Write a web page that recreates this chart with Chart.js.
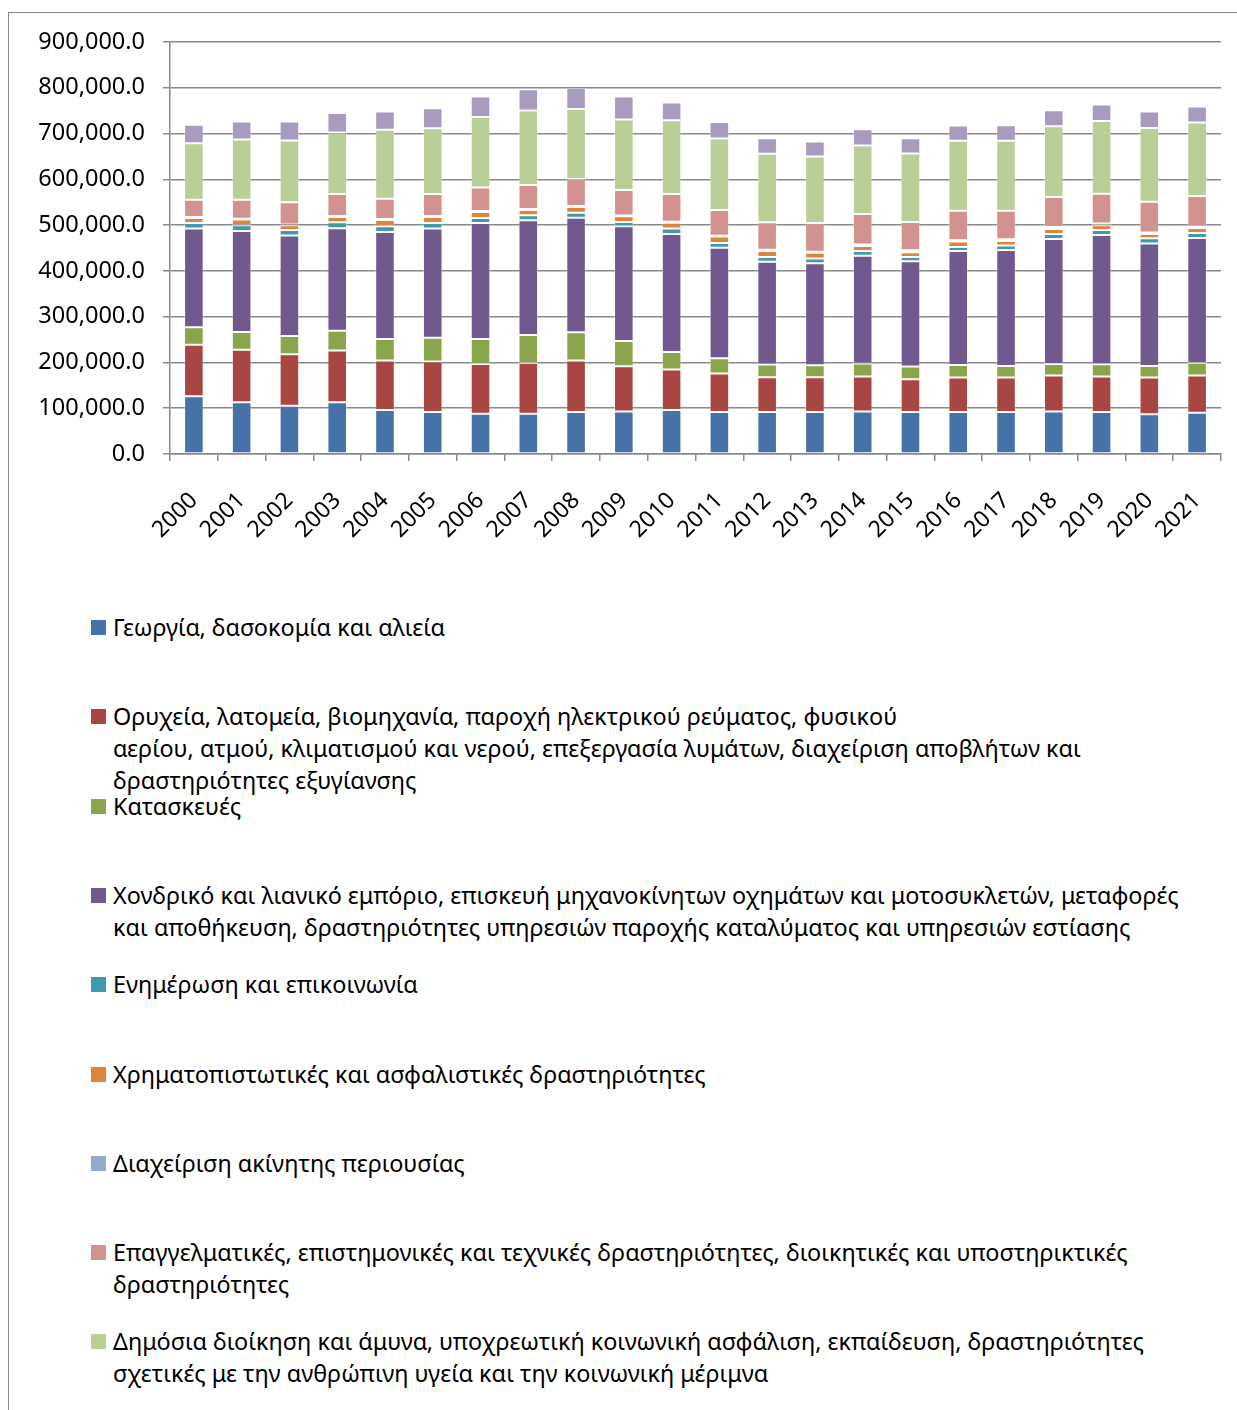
<!DOCTYPE html>
<html>
<head>
<meta charset="utf-8">
<script src="https://cdn.jsdelivr.net/npm/chart.js@4.4.1/dist/chart.umd.min.js"></script>
<style>
  html, body { margin: 0; padding: 0; background: #fff; overflow: hidden; }
  body { width: 1237px; height: 1410px; position: relative; font-family: 'Noto Sans', sans-serif; }
  #frame { position: absolute; left: 8px; top: 12px; width: 1260px; height: 1440px; border: 1.5px solid #8a8a8a; box-sizing: border-box; }
  #chart { position: absolute; left: 0; top: 0; }
  .leg { position: absolute; left: 113px; font-size: 23.4px; line-height: 32px; color: #000; white-space: pre; }
  .leg i { position: absolute; left: -22px; top: 9px; width: 15px; height: 15px; }
</style>
</head>
<body>
<div id="frame"></div>
<canvas id="chart" width="1237" height="560"></canvas>
<div id="legend"></div>
<script>
// categories
const years = ['2000','2001','2002','2003','2004','2005','2006','2007','2008','2009','2010',
               '2011','2012','2013','2014','2015','2016','2017','2018','2019','2020','2021'];

const yTicks = [0, 100000, 200000, 300000, 400000, 500000, 600000, 700000, 800000, 900000];

// series values
const agriculture = [126400,113300,105300,113300,95900,91500,87900,87900,91500,93000,95900,
                     91500,91500,91500,93000,91500,91500,91500,93000,91500,87100,90100];
const industry    = [112500,114700,112600,112600,108200,110400,108900,111100,112600,98700,88600,
                     84200,76300,76300,76200,71900,75500,75500,78400,77700,79900,81300];
const construction= [37800,38500,39900,43500,47200,52300,54500,61000,61700,55200,38400,
                     33500,27600,26100,28300,27600,27600,25400,25400,26900,25400,27600];
const trade       = [215700,220800,219300,223700,233800,238200,253400,250500,250500,250600,257900,
                     241100,224400,222900,235300,230200,249100,253500,273100,282500,267300,273000];
const infoComm    = [12300,12300,12400,13100,12400,12300,10900,10900,10900,9400,11600,
                     10800,10800,10200,10900,9400,8700,9400,10900,10900,11600,10900];
const finance     = [10900,12400,10100,11600,13800,13100,13100,11600,12400,12300,13000,
                     13800,13100,12400,10900,10200,11700,10200,10800,10100,9500,10900];
const realEstate  = [2000,2000,2000,2000,2000,2000,2000,2000,2000,2000,2000,
                     2000,2500,2500,3000,4400,2900,3600,4400,3700,2900,2900];
const professional= [38000,41600,48100,48100,44400,48100,51700,52500,59000,55400,60500,
                     56100,60000,62800,66700,61700,64600,62500,65400,65300,67500,66800];
const publicAdmin = [123400,131400,135100,134300,150400,143800,154000,162700,153200,154000,161200,
                     156200,149600,145300,149600,149600,152500,152500,154600,159100,161200,160500];
const otherServ   = [40000,39200,41400,42900,39900,43600,44300,46500,46500,50100,38500,
                     36300,34100,32600,35600,33400,33400,34100,34900,35600,35600,34900];

const seriesLabels = [
  'Γεωργία, δασοκομία και αλιεία',
  'Ορυχεία, λατομεία, βιομηχανία, παροχή ηλεκτρικού ρεύματος, φυσικού\nαερίου, ατμού, κλιματισμού και νερού, επεξεργασία λυμάτων, διαχείριση αποβλήτων και\nδραστηριότητες εξυγίανσης',
  'Κατασκευές',
  'Χονδρικό και λιανικό εμπόριο, επισκευή μηχανοκίνητων οχημάτων και μοτοσυκλετών, μεταφορές\nκαι αποθήκευση, δραστηριότητες υπηρεσιών παροχής καταλύματος και υπηρεσιών εστίασης',
  'Ενημέρωση και επικοινωνία',
  'Χρηματοπιστωτικές και ασφαλιστικές δραστηριότητες',
  'Διαχείριση ακίνητης περιουσίας',
  'Επαγγελματικές, επιστημονικές και τεχνικές δραστηριότητες, διοικητικές και υποστηρικτικές\nδραστηριότητες',
  'Δημόσια διοίκηση και άμυνα, υποχρεωτική κοινωνική ασφάλιση, εκπαίδευση, δραστηριότητες\nσχετικές με την ανθρώπινη υγεία και την κοινωνική μέριμνα',
  'Τέχνες, διασκέδαση και ψυχαγωγία, επισκευή οικιακών ειδών και άλλες δραστηριότητες\nπαροχής υπηρεσιών'
];
const seriesColors = ['#4672A8','#A84644','#8AA54B','#71598F','#4199B0','#DE843C',
                      '#93A9CF','#D29290','#BACE97','#A99BBE'];
const seriesData = [agriculture, industry, construction, trade, infoComm, finance,
                    realEstate, professional, publicAdmin, otherServ];

const datasets = seriesData.map((d, i) => ({
    label: seriesLabels[i].replace(/\n/g, ' '),
    data: d,
    backgroundColor: seriesColors[i],
    borderColor: 'rgba(255,255,255,0.35)',
    borderWidth: 1,
    borderSkipped: false,
    barPercentage: 0.41,
    categoryPercentage: 1
}));

const gridGray = '#888888';

new Chart(document.getElementById('chart'), {
    type: 'bar',
    data: { labels: years, datasets: datasets },
    options: {
        responsive: false,
        animation: false,
        devicePixelRatio: 1,
        layout: { padding: { left: 0, top: 42, right: 16, bottom: 0 } },
        plugins: { legend: { display: false }, tooltip: { enabled: false } },
        scales: {
            x: {
                stacked: true,
                grid: { drawOnChartArea: false, drawTicks: true, tickLength: 7, color: gridGray, lineWidth: 1.5 },
                border: { color: gridGray, width: 1.5 },
                ticks: { color: '#000', font: { family: 'Noto Sans', size: 23 }, minRotation: 45, maxRotation: 45, padding: 26, autoSkip: false },
                afterFit: (scale) => {
                    scale.height = 106;
                    // rotated labels end at the tick, no extra room needed on the right
                    scale.paddingRight = 0;
                }
            },
            y: {
                stacked: true,
                min: 0, max: 900000,
                afterBuildTicks: (scale) => { scale.ticks = yTicks.map(v => ({ value: v })); },
                grid: { color: gridGray, lineWidth: 1.5, tickLength: 7 },
                border: { color: gridGray, width: 1.5 },
                ticks: {
                    color: '#000', padding: 18,
                    font: { family: 'Noto Sans', size: 23.5 },
                    callback: (v) => v.toLocaleString('en-US', { minimumFractionDigits: 1, maximumFractionDigits: 1 })
                },
                afterFit: (scale) => { scale.width = 170; }
            }
        }
    }
});

// legend, one row every 89px like the reference
const legend = document.getElementById('legend');
seriesLabels.forEach((lab, i) => {
    const div = document.createElement('div');
    div.className = 'leg';
    div.style.top = (611 + i * 89.3) + 'px';
    div.textContent = lab;
    const sw = document.createElement('i');
    sw.style.background = seriesColors[i];
    div.appendChild(sw);
    legend.appendChild(div);
});
</script>
</body>
</html>
